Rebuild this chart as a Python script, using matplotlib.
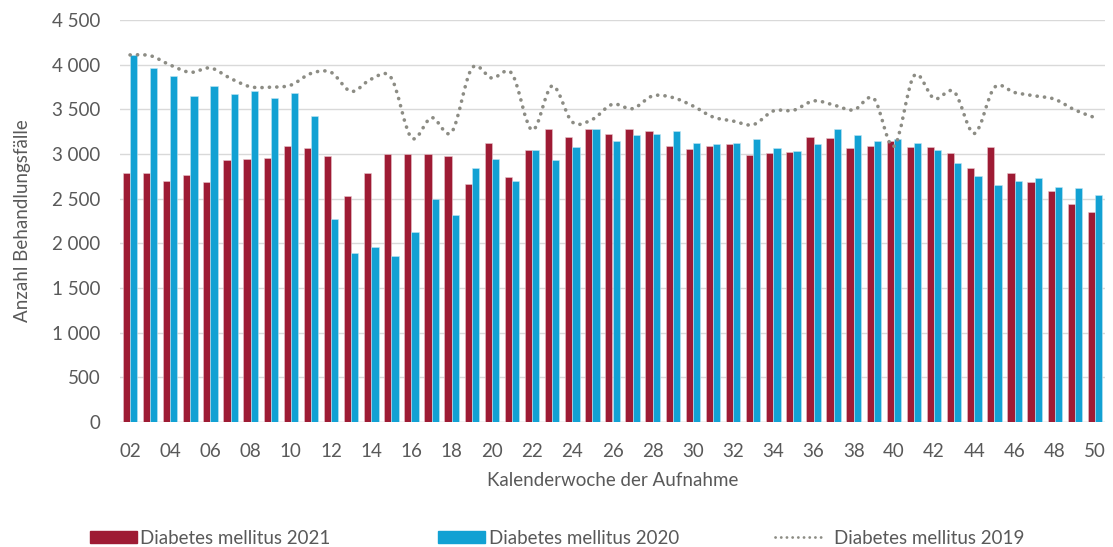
import matplotlib
matplotlib.use("Agg")
import matplotlib.pyplot as plt
import numpy as np
from matplotlib.path import Path
from matplotlib.patches import PathPatch, Patch
from matplotlib.lines import Line2D

weeks = [f"{w:02d}" for w in range(2, 51)]
dm2021 = [2783, 2787, 2701, 2764, 2682, 2933, 2945, 2956, 3084, 3069,
          2982, 2532, 2787, 3005, 3001, 3001, 2979, 2663, 3121, 2746,
          3042, 3279, 3185, 3275, 3226, 3283, 3253, 3091, 3061, 3091,
          3110, 2990, 3016, 3020, 3193, 3174, 3069, 3084, 3151, 3076,
          3076, 3012, 2847, 3076, 2791, 2689, 2584, 2445, 2347]
dm2020 = [4113, 3963, 3872, 3651, 3760, 3670, 3703, 3625, 3681, 3422,
          2276, 1889, 1961, 1859, 2122, 2494, 2317, 2843, 2945, 2697,
          3046, 2933, 3076, 3283, 3147, 3208, 3219, 3260, 3125, 3110,
          3121, 3170, 3065, 3035, 3114, 3283, 3215, 3151, 3163, 3125,
          3050, 2900, 2749, 2655, 2697, 2731, 2633, 2618, 2539]
dm2019 = [4109, 4101, 3996, 3914, 3963, 3846, 3752, 3748, 3771, 3902,
          3914, 3700, 3839, 3850, 3181, 3407, 3245, 3959, 3850, 3899,
          3268, 3763, 3358, 3388, 3557, 3508, 3651, 3632, 3538, 3414,
          3369, 3328, 3482, 3489, 3594, 3549, 3493, 3621, 3087, 3876,
          3621, 3696, 3230, 3745, 3688, 3651, 3613, 3493, 3407]
labels = ["Diabetes mellitus 2021", "Diabetes mellitus 2020", "Diabetes mellitus 2019"]

RED = "#9E1B34"
BLUE = "#12A1D3"
GRAY = "#8C8C84"
TXT = "#595959"
FONT = ["Lato", "DejaVu Sans"]
FS = 13.5
plt.rcParams["font.family"] = FONT

W, H = 1113, 547
fig = plt.figure(figsize=(W / 100, H / 100), dpi=100)
ax = fig.add_axes([120 / W, 1 - 422 / H, 985 / W, 402 / H])

x = np.arange(len(weeks))
bw = 0.36
ax.bar(x - bw / 2, dm2021, bw, color=RED, edgecolor="#E8C6CC", linewidth=0.4, zorder=2)
ax.bar(x + bw / 2, dm2020, bw, color=BLUE, edgecolor="#BFE6F4", linewidth=0.4, zorder=2)

# smoothed line (Catmull-Rom rendered as cubic Bezier segments)
pts = np.column_stack([x, np.array(dm2019, dtype=float)])
verts = [tuple(pts[0])]
codes = [Path.MOVETO]
n = len(pts)
for i in range(n - 1):
    p0 = pts[max(i - 1, 0)]
    p1 = pts[i]
    p2 = pts[i + 1]
    p3 = pts[min(i + 2, n - 1)]
    c1 = p1 + (p2 - p0) / 6.0
    c2 = p2 - (p3 - p1) / 6.0
    verts += [tuple(c1), tuple(c2), tuple(p2)]
    codes += [Path.CURVE4] * 3
path = Path(verts, codes)
ls = (0, (0.05, 2.0))
ax.add_patch(PathPatch(path, fill=False, edgecolor=GRAY, linewidth=2.6,
                       linestyle=ls, capstyle="round", zorder=3))

ax.set_xlim(-0.5, len(weeks) - 0.5)
ax.set_ylim(0, 4500)
yt = np.arange(0, 4501, 500)
ax.set_yticks(yt)
ax.set_yticklabels([f"{v:,}".replace(",", " ") for v in yt])
ax.set_xticks(x[::2])
ax.set_xticklabels(weeks[::2])
ax.yaxis.grid(True, color="#D9D9D9", linewidth=1.0, zorder=0)
ax.set_axisbelow(True)
for s in ax.spines.values():
    s.set_visible(False)
ax.axhline(0, color="#D9D9D9", linewidth=1.0, zorder=1)
ax.tick_params(axis="both", length=0, labelsize=FS, colors=TXT)
ax.tick_params(axis="y", pad=14)
ax.tick_params(axis="x", pad=15)
ax.set_xlabel("Kalenderwoche der Aufnahme", fontsize=FS, color=TXT, labelpad=9)
ax.set_ylabel("Anzahl Behandlungsfälle", fontsize=FS, color=TXT, labelpad=15.5)

px = FS * 100 / 72  # font size in pixels
handles = [Patch(facecolor=RED, edgecolor=RED),
           Patch(facecolor=BLUE, edgecolor=BLUE),
           Line2D([0], [0], color=GRAY, linewidth=2.0, linestyle=(0, (0.05, 2.0)),
                  dash_capstyle="round")]
starts = [90, 438, 775]
hlens = [47, 47, 50]
tpads = [3, 4, 9]
for h, lab, s, hl, tp in zip(handles, labels, starts, hlens, tpads):
    leg = fig.legend([h], [lab], loc="center left",
                     bbox_to_anchor=(s / W, 1 - 538 / H), frameon=False,
                     fontsize=FS, handlelength=hl / px, handleheight=12 / px,
                     handletextpad=tp / px, borderpad=0, borderaxespad=0)
    for t in leg.get_texts():
        t.set_color(TXT)

fig.savefig("out.png", dpi=100)
